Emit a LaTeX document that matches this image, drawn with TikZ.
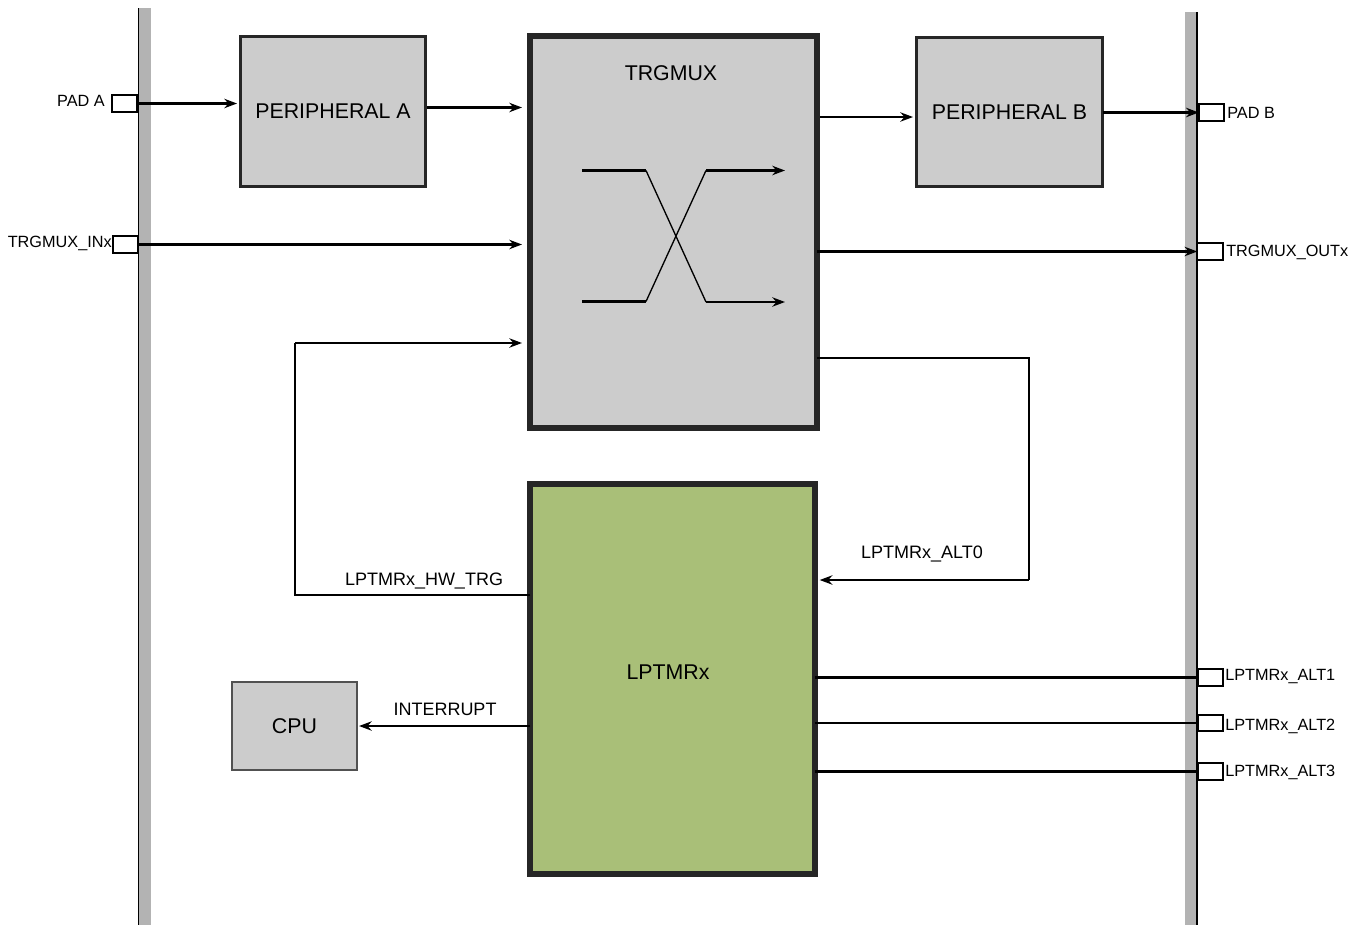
\documentclass[tikz,border=0pt]{standalone}
\usepackage{fontspec}
\setmainfont{Liberation Sans}
\usetikzlibrary{arrows.meta,calc}
\definecolor{boxgray}{HTML}{CCCCCC}
\definecolor{bargray}{HTML}{B3B3B3}
\definecolor{edge}{HTML}{262626}
\definecolor{lptgreen}{RGB}{169,191,120}
\begin{document}
\begin{tikzpicture}[x=0.75pt,y=-0.75pt,
  blk/.style={draw=edge,fill=boxgray,rectangle,inner sep=0pt,outer sep=0pt},
  pin/.style={draw=black,fill=white,line width=1.3pt,rectangle,inner sep=0pt,outer sep=0pt,minimum width=19pt,minimum height=12.5pt},
  big/.style={font=\fontsize{16}{19}\selectfont},
  mid/.style={font=\fontsize{13.5}{16}\selectfont,inner sep=0pt},
  small/.style={font=\fontsize{12.2}{14}\selectfont,inner sep=0pt},
  wire/.style={draw=black,line width=1.6pt},
  arr/.style={wire,-{Stealth[length=9.5pt,width=7pt]}}]
\useasboundingbox (0,0) rectangle (1359,925);
% I/O bars
\fill[bargray] (138,8) rectangle (151,925);
\draw[black,line width=0.8pt] (138.4,8) -- (138.4,925);
\fill[bargray] (1185,12) rectangle (1197,925);
\draw[black,line width=0.8pt] (1197,12) -- (1197,925);
% pins
\node[pin] (padA) at (124.5,103.5) {};
\node[pin] (inx) at (125.5,244.5) {};
\node[pin] (padB) at (1211.5,112.5) {};
\node[pin] (outx) at (1210,251.5) {};
\node[pin] (alt1) at (1210.5,677.5) {};
\node[pin] (alt2) at (1210.5,723) {};
\node[pin] (alt3) at (1210.5,771.5) {};
\node[small,anchor=east] (lpadA) at (105,101) {PAD A};
\node[small,anchor=east] (linx) at (112,243) {TRGMUX\_INx};
\node[small,anchor=west] (lpadB) at (1227,113) {PAD B};
\node[small,anchor=west] (loutx) at (1226,252) {TRGMUX\_OUTx};
\node[small,anchor=west] (lalt1) at (1225,677) {LPTMRx\_ALT1};
\node[small,anchor=west] (lalt2) at (1225,726) {LPTMRx\_ALT2};
\node[small,anchor=west] (lalt3) at (1225,772) {LPTMRx\_ALT3};
% blocks
\node[blk,line width=2.25pt,minimum width=138.75pt,minimum height=112.5pt,big] (pera) at (333,111.5) {PERIPHERAL A};
\node[blk,line width=2.25pt,minimum width=139.5pt,minimum height=111.75pt,big] (perb) at (1009.5,112) {PERIPHERAL B};
\node[blk,line width=4.5pt,minimum width=215.25pt,minimum height=294pt] (trg) at (673.5,232) {};
\node[big,inner sep=0pt] (trgl) at (671,73) {TRGMUX};
\node[blk,fill=lptgreen,line width=4.5pt,minimum width=213.75pt,minimum height=292.5pt,big] (lpt) at (672.5,679) {};
\node[big,inner sep=0pt] (lptl) at (668,672) {LPTMRx};
\node[blk,draw=edge!80,line width=1.5pt,minimum width=93.75pt,minimum height=66pt,big] (cpu) at (294.5,726) {CPU};
% crossing inside TRGMUX
\coordinate (x1) at (582,170.5); \coordinate (x2) at (646,170.5);
\coordinate (x3) at (706,302); \coordinate (x4) at (785,302);
\coordinate (y1) at (582,301.5); \coordinate (y2) at (646,301.5);
\coordinate (y3) at (706,170.5); \coordinate (y4) at (785,170.5);
\draw[wire] (x1) -- (x2);
\draw[black,line width=1pt] (x2) -- (x3);
\draw[arr] (x3) -- (x4);
\draw[wire] (y1) -- (y2);
\draw[black,line width=1pt] (y2) -- (y3);
\draw[arr] (y3) -- (y4);
% connectors
\draw[arr,shorten >=2.6pt] (padA.east) -- (padA.east -| pera.west);
\draw[arr,shorten >=6pt] ($(pera.east)+(1.5,-4)$) -- ($(pera.east -| trg.west)+(0,-4)$);
\draw[arr,shorten >=6pt] (inx.east) -- (inx.east -| trg.west);
\draw[arr,shorten >=2.6pt] ($(perb.west -| trg.east)+(3,5)$) -- ($(perb.west)+(0,5)$);
\draw[arr] (padB.west -| perb.east) -- (padB.west);
\draw[arr] (outx.west -| trg.east) -- (outx.west);
\coordinate (c0) at (1029,358);
\coordinate (c1) at (1029,580);
\draw[wire] (trg.east |- c0) -- (c0) -- (c1);
\draw[arr,shorten >=3.5pt] (c1) -- (c1 -| lpt.east);
\node[mid] (lalt0) at (922,554) {LPTMRx\_ALT0};
\coordinate (h0) at (295,595);
\coordinate (h1) at (295,343);
\draw[wire] (h0 -| lpt.west) -- (h0) -- (h1);
\draw[arr,shorten >=6pt] (h1) -- (h1 -| trg.west);
\node[mid] (lhw) at (424,581) {LPTMRx\_HW\_TRG};
\draw[arr,shorten >=1.5pt] (cpu.east -| lpt.west) -- (cpu.east);
\node[mid] (lint) at (445,709) {INTERRUPT};
\draw[wire] (alt1.west -| lpt.east) -- (alt1.west);
\draw[wire] (alt2.west -| lpt.east) -- (alt2.west);
\draw[wire] (alt3.west -| lpt.east) -- (alt3.west);
\end{tikzpicture}
\end{document}
